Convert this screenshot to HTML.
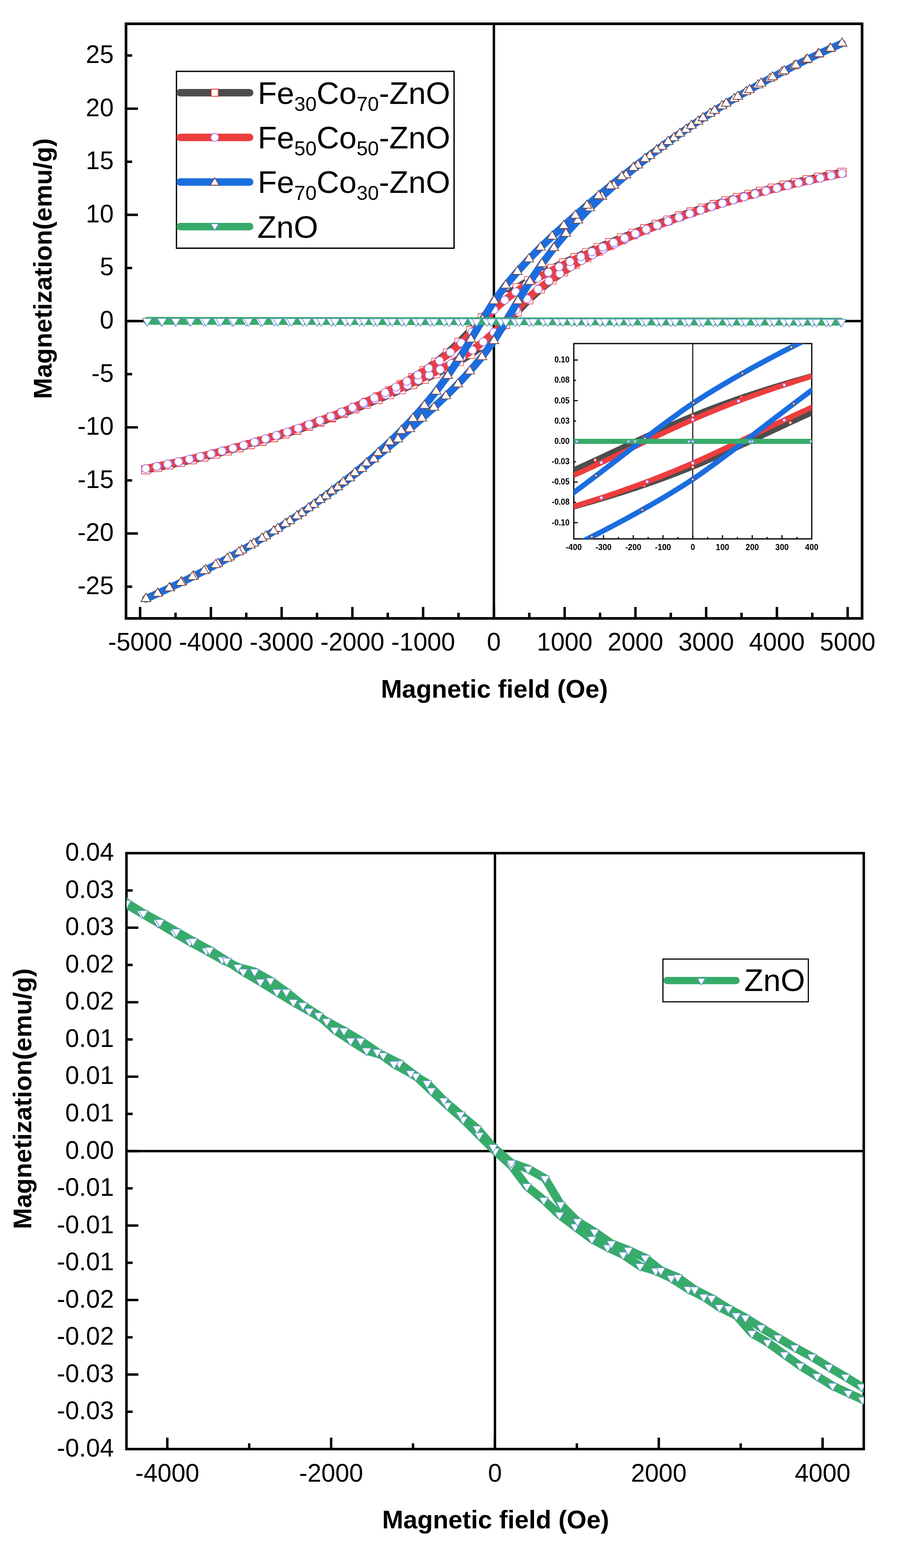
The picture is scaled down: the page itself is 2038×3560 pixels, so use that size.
<!DOCTYPE html><html><head><meta charset="utf-8"><title>M-H loops</title><style>html,body{margin:0;padding:0;background:#fff}svg{display:block}text{font-family:"Liberation Sans",Arial,sans-serif}</style></head><body>
<svg width="2038" height="3560" viewBox="0 0 2038 3560">
<rect width="2038" height="3560" fill="#fff"/>
<path d="M1120.9 54V1404 M286 729H1956.5" stroke="#000" stroke-width="5.5" fill="none"/>
<path d="M1911 391.3 L1884.6 396.8 L1858.3 402.4 L1831.9 408.3 L1805.6 414.4 L1779.3 420.7 L1752.9 427.3 L1726.6 434.2 L1700.3 441.3 L1673.9 448.7 L1647.6 456.4 L1621.3 464.5 L1594.9 472.8 L1568.6 481.5 L1542.3 490.5 L1515.9 499.8 L1489.6 509.5 L1463.3 519.5 L1436.9 529.7 L1410.6 540.2 L1384.3 551 L1357.9 562.1 L1331.6 573.4 L1305.2 585 L1278.9 597 L1252.6 609.6 L1226.2 622.9 L1199.9 637.4 L1173.6 653.6 L1147.2 672.5 L1120.9 694.8 L1094.6 721.5 L1068.2 750 L1041.9 777.3 L1015.6 801.6 L989.2 822.6 L962.9 841.1 L936.6 857.8 L910.2 873.1 L883.9 887.4 L857.5 900.7 L831.2 913.3 L804.9 925.2 L778.5 936.4 L752.2 947 L725.9 957.2 L699.5 966.9 L673.2 976.1 L646.9 984.9 L620.5 993.4 L594.2 1001.5 L567.9 1009.2 L541.5 1016.7 L515.2 1023.8 L488.9 1030.7 L462.5 1037.3 L436.2 1043.6 L409.9 1049.7 L383.5 1055.6 L357.2 1061.2 L330.8 1066.7 L330.8 1066.7 L357.2 1061.2 L383.5 1055.6 L409.9 1049.7 L436.2 1043.6 L462.5 1037.3 L488.9 1030.7 L515.2 1023.8 L541.5 1016.7 L567.9 1009.3 L594.2 1001.6 L620.5 993.5 L646.9 985.2 L673.2 976.5 L699.5 967.5 L725.9 958.2 L752.2 948.5 L778.5 938.5 L804.9 928.3 L831.2 917.8 L857.5 907 L883.9 895.9 L910.2 884.6 L936.6 873 L962.9 861 L989.2 848.4 L1015.6 835.1 L1041.9 820.6 L1068.2 804.4 L1094.6 785.5 L1120.9 763.2 L1147.2 736.5 L1173.6 708 L1199.9 680.7 L1226.2 656.4 L1252.6 635.4 L1278.9 616.9 L1305.2 600.2 L1331.6 584.9 L1357.9 570.6 L1384.3 557.3 L1410.6 544.7 L1436.9 532.8 L1463.3 521.6 L1489.6 511 L1515.9 500.8 L1542.3 491.1 L1568.6 481.9 L1594.9 473.1 L1621.3 464.6 L1647.6 456.5 L1673.9 448.8 L1700.3 441.3 L1726.6 434.2 L1752.9 427.3 L1779.3 420.7 L1805.6 414.4 L1831.9 408.3 L1858.3 402.4 L1884.6 396.8 L1911 391.3" stroke="#4d4d4d" stroke-width="17" fill="none" stroke-linejoin="round" stroke-linecap="round"/>
<g fill="#fff" stroke="#f02828" stroke-width="1.3"><path d="M321.3 1057.2h19v19h-19Z"/><path d="M347.7 1051.7h19v19h-19Z"/><path d="M374 1046.1h19v19h-19Z"/><path d="M400.4 1040.2h19v19h-19Z"/><path d="M426.7 1034.1h19v19h-19Z"/><path d="M453 1027.8h19v19h-19Z"/><path d="M479.4 1021.2h19v19h-19Z"/><path d="M505.7 1014.3h19v19h-19Z"/><path d="M532 1007.2h19v19h-19Z"/><path d="M558.4 999.8h19v19h-19Z"/><path d="M584.7 992.1h19v19h-19Z"/><path d="M611 984h19v19h-19Z"/><path d="M637.4 975.7h19v19h-19Z"/><path d="M663.7 967h19v19h-19Z"/><path d="M690 958h19v19h-19Z"/><path d="M716.4 948.7h19v19h-19Z"/><path d="M742.7 939h19v19h-19Z"/><path d="M769 929h19v19h-19Z"/><path d="M795.4 918.8h19v19h-19Z"/><path d="M821.7 908.3h19v19h-19Z"/><path d="M848 897.5h19v19h-19Z"/><path d="M874.4 886.4h19v19h-19Z"/><path d="M900.7 875.1h19v19h-19Z"/><path d="M927.1 863.5h19v19h-19Z"/><path d="M953.4 851.5h19v19h-19Z"/><path d="M979.7 838.9h19v19h-19Z"/><path d="M1006.1 825.6h19v19h-19Z"/><path d="M1032.4 811.1h19v19h-19Z"/><path d="M1058.7 794.9h19v19h-19Z"/><path d="M1085.1 776h19v19h-19Z"/><path d="M1111.4 753.7h19v19h-19Z"/><path d="M1137.7 727h19v19h-19Z"/><path d="M1164.1 698.5h19v19h-19Z"/><path d="M1190.4 671.2h19v19h-19Z"/><path d="M1216.7 646.9h19v19h-19Z"/><path d="M1243.1 625.9h19v19h-19Z"/><path d="M1269.4 607.4h19v19h-19Z"/><path d="M1295.7 590.7h19v19h-19Z"/><path d="M1322.1 575.4h19v19h-19Z"/><path d="M1348.4 561.1h19v19h-19Z"/><path d="M1374.8 547.8h19v19h-19Z"/><path d="M1401.1 535.2h19v19h-19Z"/><path d="M1427.4 523.3h19v19h-19Z"/><path d="M1453.8 512.1h19v19h-19Z"/><path d="M1480.1 501.5h19v19h-19Z"/><path d="M1506.4 491.3h19v19h-19Z"/><path d="M1532.8 481.6h19v19h-19Z"/><path d="M1559.1 472.4h19v19h-19Z"/><path d="M1585.4 463.6h19v19h-19Z"/><path d="M1611.8 455.1h19v19h-19Z"/><path d="M1638.1 447h19v19h-19Z"/><path d="M1664.4 439.3h19v19h-19Z"/><path d="M1690.8 431.8h19v19h-19Z"/><path d="M1717.1 424.7h19v19h-19Z"/><path d="M1743.4 417.8h19v19h-19Z"/><path d="M1769.8 411.2h19v19h-19Z"/><path d="M1796.1 404.9h19v19h-19Z"/><path d="M1822.4 398.8h19v19h-19Z"/><path d="M1848.8 392.9h19v19h-19Z"/><path d="M1875.1 387.3h19v19h-19Z"/><path d="M1901.5 381.8h19v19h-19Z"/><path d="M1901.5 381.8h19v19h-19Z"/><path d="M1875.1 387.3h19v19h-19Z"/><path d="M1848.8 392.9h19v19h-19Z"/><path d="M1822.4 398.8h19v19h-19Z"/><path d="M1796.1 404.9h19v19h-19Z"/><path d="M1769.8 411.2h19v19h-19Z"/><path d="M1743.4 417.8h19v19h-19Z"/><path d="M1717.1 424.7h19v19h-19Z"/><path d="M1690.8 431.8h19v19h-19Z"/><path d="M1664.4 439.2h19v19h-19Z"/><path d="M1638.1 446.9h19v19h-19Z"/><path d="M1611.8 455h19v19h-19Z"/><path d="M1585.4 463.3h19v19h-19Z"/><path d="M1559.1 472h19v19h-19Z"/><path d="M1532.8 481h19v19h-19Z"/><path d="M1506.4 490.3h19v19h-19Z"/><path d="M1480.1 500h19v19h-19Z"/><path d="M1453.8 510h19v19h-19Z"/><path d="M1427.4 520.2h19v19h-19Z"/><path d="M1401.1 530.7h19v19h-19Z"/><path d="M1374.8 541.5h19v19h-19Z"/><path d="M1348.4 552.6h19v19h-19Z"/><path d="M1322.1 563.9h19v19h-19Z"/><path d="M1295.7 575.5h19v19h-19Z"/><path d="M1269.4 587.5h19v19h-19Z"/><path d="M1243.1 600.1h19v19h-19Z"/><path d="M1216.7 613.4h19v19h-19Z"/><path d="M1190.4 627.9h19v19h-19Z"/><path d="M1164.1 644.1h19v19h-19Z"/><path d="M1137.7 663h19v19h-19Z"/><path d="M1111.4 685.3h19v19h-19Z"/><path d="M1085.1 712h19v19h-19Z"/><path d="M1058.7 740.5h19v19h-19Z"/><path d="M1032.4 767.8h19v19h-19Z"/><path d="M1006.1 792.1h19v19h-19Z"/><path d="M979.7 813.1h19v19h-19Z"/><path d="M953.4 831.6h19v19h-19Z"/><path d="M927.1 848.3h19v19h-19Z"/><path d="M900.7 863.6h19v19h-19Z"/><path d="M874.4 877.9h19v19h-19Z"/><path d="M848 891.2h19v19h-19Z"/><path d="M821.7 903.8h19v19h-19Z"/><path d="M795.4 915.7h19v19h-19Z"/><path d="M769 926.9h19v19h-19Z"/><path d="M742.7 937.5h19v19h-19Z"/><path d="M716.4 947.7h19v19h-19Z"/><path d="M690 957.4h19v19h-19Z"/><path d="M663.7 966.6h19v19h-19Z"/><path d="M637.4 975.4h19v19h-19Z"/><path d="M611 983.9h19v19h-19Z"/><path d="M584.7 992h19v19h-19Z"/><path d="M558.4 999.7h19v19h-19Z"/><path d="M532 1007.2h19v19h-19Z"/><path d="M505.7 1014.3h19v19h-19Z"/><path d="M479.4 1021.2h19v19h-19Z"/><path d="M453 1027.8h19v19h-19Z"/><path d="M426.7 1034.1h19v19h-19Z"/><path d="M400.4 1040.2h19v19h-19Z"/><path d="M374 1046.1h19v19h-19Z"/><path d="M347.7 1051.7h19v19h-19Z"/><path d="M321.3 1057.2h19v19h-19Z"/></g>
<path d="M1911 394 L1886.3 399.1 L1861.6 404.4 L1836.9 409.8 L1812.2 415.5 L1787.5 421.4 L1762.8 427.4 L1738.1 433.8 L1713.4 440.3 L1688.8 447.1 L1664.1 454.2 L1639.4 461.5 L1614.7 469.1 L1590 477 L1565.3 485.2 L1540.6 493.7 L1515.9 502.4 L1491.2 511.5 L1466.5 520.8 L1441.9 530.5 L1417.2 540.4 L1392.5 550.5 L1367.8 560.9 L1343.1 571.6 L1318.4 582.6 L1293.7 594 L1269 605.8 L1244.3 618.3 L1219.7 631.6 L1195 646.2 L1170.3 662.7 L1145.6 681.6 L1120.9 703.4 L1096.2 728.3 L1071.5 754 L1046.8 778.3 L1022.1 799.9 L997.5 819 L972.8 835.9 L948.1 851.3 L923.4 865.6 L898.7 878.9 L874 891.4 L849.3 903.3 L824.6 914.6 L799.9 925.4 L775.3 935.6 L750.6 945.5 L725.9 954.9 L701.2 963.9 L676.5 972.5 L651.8 980.8 L627.1 988.8 L602.4 996.4 L577.7 1003.8 L553 1010.9 L528.4 1017.7 L503.7 1024.2 L479 1030.6 L454.3 1036.6 L429.6 1042.5 L404.9 1048.2 L380.2 1053.6 L355.5 1058.9 L330.8 1064 L330.8 1064 L357 1058.6 L381.7 1053.3 L406.4 1047.8 L431 1042.2 L455.7 1036.3 L480.4 1030.2 L505.1 1023.9 L529.8 1017.3 L554.5 1010.5 L579.2 1003.4 L603.9 996.1 L628.6 988.4 L653.3 980.5 L677.9 972.3 L702.6 963.8 L727.3 955.1 L752 946 L776.7 936.6 L801.4 927 L826.1 917.1 L850.8 906.9 L875.5 896.4 L900.1 885.7 L924.8 874.7 L949.5 863.3 L974.2 851.5 L998.9 839 L1023.6 825.6 L1047.9 811.1 L1072.3 794.8 L1096.6 776.1 L1120.9 754.6 L1146 729.4 L1171 703.3 L1196.1 678.7 L1221.1 656.9 L1245.8 638 L1270.5 621.1 L1295.2 605.8 L1319.9 591.6 L1344.5 578.4 L1369.2 565.8 L1393.9 554 L1418.6 542.7 L1443.3 532 L1468 521.8 L1492.7 512 L1517.4 502.6 L1542.1 493.6 L1566.8 485 L1591.4 476.7 L1616.1 468.8 L1640.8 461.1 L1665.5 453.8 L1690.2 446.7 L1714.9 439.9 L1739.6 433.4 L1764.3 427.1 L1789 421 L1813.6 415.2 L1838.3 409.5 L1863 404 L1887.7 398.8 L1911 394" stroke="#ee3d3d" stroke-width="17" fill="none" stroke-linejoin="round" stroke-linecap="round"/>
<g fill="#fff" stroke="#a777e6" stroke-width="1.7"><path d="M321.6 1064a9.2 9.2 0 1 0 18.4 0a9.2 9.2 0 1 0 -18.4 0Z"/><path d="M347.8 1058.6a9.2 9.2 0 1 0 18.4 0a9.2 9.2 0 1 0 -18.4 0Z"/><path d="M372.5 1053.3a9.2 9.2 0 1 0 18.4 0a9.2 9.2 0 1 0 -18.4 0Z"/><path d="M397.2 1047.8a9.2 9.2 0 1 0 18.4 0a9.2 9.2 0 1 0 -18.4 0Z"/><path d="M421.8 1042.2a9.2 9.2 0 1 0 18.4 0a9.2 9.2 0 1 0 -18.4 0Z"/><path d="M446.5 1036.3a9.2 9.2 0 1 0 18.4 0a9.2 9.2 0 1 0 -18.4 0Z"/><path d="M471.2 1030.2a9.2 9.2 0 1 0 18.4 0a9.2 9.2 0 1 0 -18.4 0Z"/><path d="M495.9 1023.9a9.2 9.2 0 1 0 18.4 0a9.2 9.2 0 1 0 -18.4 0Z"/><path d="M520.6 1017.3a9.2 9.2 0 1 0 18.4 0a9.2 9.2 0 1 0 -18.4 0Z"/><path d="M545.3 1010.5a9.2 9.2 0 1 0 18.4 0a9.2 9.2 0 1 0 -18.4 0Z"/><path d="M570 1003.4a9.2 9.2 0 1 0 18.4 0a9.2 9.2 0 1 0 -18.4 0Z"/><path d="M594.7 996.1a9.2 9.2 0 1 0 18.4 0a9.2 9.2 0 1 0 -18.4 0Z"/><path d="M619.4 988.4a9.2 9.2 0 1 0 18.4 0a9.2 9.2 0 1 0 -18.4 0Z"/><path d="M644.1 980.5a9.2 9.2 0 1 0 18.4 0a9.2 9.2 0 1 0 -18.4 0Z"/><path d="M668.7 972.3a9.2 9.2 0 1 0 18.4 0a9.2 9.2 0 1 0 -18.4 0Z"/><path d="M693.4 963.8a9.2 9.2 0 1 0 18.4 0a9.2 9.2 0 1 0 -18.4 0Z"/><path d="M718.1 955.1a9.2 9.2 0 1 0 18.4 0a9.2 9.2 0 1 0 -18.4 0Z"/><path d="M742.8 946a9.2 9.2 0 1 0 18.4 0a9.2 9.2 0 1 0 -18.4 0Z"/><path d="M767.5 936.6a9.2 9.2 0 1 0 18.4 0a9.2 9.2 0 1 0 -18.4 0Z"/><path d="M792.2 927a9.2 9.2 0 1 0 18.4 0a9.2 9.2 0 1 0 -18.4 0Z"/><path d="M816.9 917.1a9.2 9.2 0 1 0 18.4 0a9.2 9.2 0 1 0 -18.4 0Z"/><path d="M841.6 906.9a9.2 9.2 0 1 0 18.4 0a9.2 9.2 0 1 0 -18.4 0Z"/><path d="M866.3 896.4a9.2 9.2 0 1 0 18.4 0a9.2 9.2 0 1 0 -18.4 0Z"/><path d="M890.9 885.7a9.2 9.2 0 1 0 18.4 0a9.2 9.2 0 1 0 -18.4 0Z"/><path d="M915.6 874.7a9.2 9.2 0 1 0 18.4 0a9.2 9.2 0 1 0 -18.4 0Z"/><path d="M940.3 863.3a9.2 9.2 0 1 0 18.4 0a9.2 9.2 0 1 0 -18.4 0Z"/><path d="M965 851.5a9.2 9.2 0 1 0 18.4 0a9.2 9.2 0 1 0 -18.4 0Z"/><path d="M989.7 839a9.2 9.2 0 1 0 18.4 0a9.2 9.2 0 1 0 -18.4 0Z"/><path d="M1014.4 825.6a9.2 9.2 0 1 0 18.4 0a9.2 9.2 0 1 0 -18.4 0Z"/><path d="M1038.7 811.1a9.2 9.2 0 1 0 18.4 0a9.2 9.2 0 1 0 -18.4 0Z"/><path d="M1063.1 794.8a9.2 9.2 0 1 0 18.4 0a9.2 9.2 0 1 0 -18.4 0Z"/><path d="M1087.4 776.1a9.2 9.2 0 1 0 18.4 0a9.2 9.2 0 1 0 -18.4 0Z"/><path d="M1111.7 754.6a9.2 9.2 0 1 0 18.4 0a9.2 9.2 0 1 0 -18.4 0Z"/><path d="M1136.8 729.4a9.2 9.2 0 1 0 18.4 0a9.2 9.2 0 1 0 -18.4 0Z"/><path d="M1161.8 703.3a9.2 9.2 0 1 0 18.4 0a9.2 9.2 0 1 0 -18.4 0Z"/><path d="M1186.9 678.7a9.2 9.2 0 1 0 18.4 0a9.2 9.2 0 1 0 -18.4 0Z"/><path d="M1211.9 656.9a9.2 9.2 0 1 0 18.4 0a9.2 9.2 0 1 0 -18.4 0Z"/><path d="M1236.6 638a9.2 9.2 0 1 0 18.4 0a9.2 9.2 0 1 0 -18.4 0Z"/><path d="M1261.3 621.1a9.2 9.2 0 1 0 18.4 0a9.2 9.2 0 1 0 -18.4 0Z"/><path d="M1286 605.8a9.2 9.2 0 1 0 18.4 0a9.2 9.2 0 1 0 -18.4 0Z"/><path d="M1310.7 591.6a9.2 9.2 0 1 0 18.4 0a9.2 9.2 0 1 0 -18.4 0Z"/><path d="M1335.3 578.4a9.2 9.2 0 1 0 18.4 0a9.2 9.2 0 1 0 -18.4 0Z"/><path d="M1360 565.8a9.2 9.2 0 1 0 18.4 0a9.2 9.2 0 1 0 -18.4 0Z"/><path d="M1384.7 554a9.2 9.2 0 1 0 18.4 0a9.2 9.2 0 1 0 -18.4 0Z"/><path d="M1409.4 542.7a9.2 9.2 0 1 0 18.4 0a9.2 9.2 0 1 0 -18.4 0Z"/><path d="M1434.1 532a9.2 9.2 0 1 0 18.4 0a9.2 9.2 0 1 0 -18.4 0Z"/><path d="M1458.8 521.8a9.2 9.2 0 1 0 18.4 0a9.2 9.2 0 1 0 -18.4 0Z"/><path d="M1483.5 512a9.2 9.2 0 1 0 18.4 0a9.2 9.2 0 1 0 -18.4 0Z"/><path d="M1508.2 502.6a9.2 9.2 0 1 0 18.4 0a9.2 9.2 0 1 0 -18.4 0Z"/><path d="M1532.9 493.6a9.2 9.2 0 1 0 18.4 0a9.2 9.2 0 1 0 -18.4 0Z"/><path d="M1557.6 485a9.2 9.2 0 1 0 18.4 0a9.2 9.2 0 1 0 -18.4 0Z"/><path d="M1582.2 476.7a9.2 9.2 0 1 0 18.4 0a9.2 9.2 0 1 0 -18.4 0Z"/><path d="M1606.9 468.8a9.2 9.2 0 1 0 18.4 0a9.2 9.2 0 1 0 -18.4 0Z"/><path d="M1631.6 461.1a9.2 9.2 0 1 0 18.4 0a9.2 9.2 0 1 0 -18.4 0Z"/><path d="M1656.3 453.8a9.2 9.2 0 1 0 18.4 0a9.2 9.2 0 1 0 -18.4 0Z"/><path d="M1681 446.7a9.2 9.2 0 1 0 18.4 0a9.2 9.2 0 1 0 -18.4 0Z"/><path d="M1705.7 439.9a9.2 9.2 0 1 0 18.4 0a9.2 9.2 0 1 0 -18.4 0Z"/><path d="M1730.4 433.4a9.2 9.2 0 1 0 18.4 0a9.2 9.2 0 1 0 -18.4 0Z"/><path d="M1755.1 427.1a9.2 9.2 0 1 0 18.4 0a9.2 9.2 0 1 0 -18.4 0Z"/><path d="M1779.8 421a9.2 9.2 0 1 0 18.4 0a9.2 9.2 0 1 0 -18.4 0Z"/><path d="M1804.4 415.2a9.2 9.2 0 1 0 18.4 0a9.2 9.2 0 1 0 -18.4 0Z"/><path d="M1829.1 409.5a9.2 9.2 0 1 0 18.4 0a9.2 9.2 0 1 0 -18.4 0Z"/><path d="M1853.8 404a9.2 9.2 0 1 0 18.4 0a9.2 9.2 0 1 0 -18.4 0Z"/><path d="M1878.5 398.8a9.2 9.2 0 1 0 18.4 0a9.2 9.2 0 1 0 -18.4 0Z"/><path d="M1901.8 394a9.2 9.2 0 1 0 18.4 0a9.2 9.2 0 1 0 -18.4 0Z"/><path d="M1901.8 394a9.2 9.2 0 1 0 18.4 0a9.2 9.2 0 1 0 -18.4 0Z"/><path d="M1877.1 399.1a9.2 9.2 0 1 0 18.4 0a9.2 9.2 0 1 0 -18.4 0Z"/><path d="M1852.4 404.4a9.2 9.2 0 1 0 18.4 0a9.2 9.2 0 1 0 -18.4 0Z"/><path d="M1827.7 409.8a9.2 9.2 0 1 0 18.4 0a9.2 9.2 0 1 0 -18.4 0Z"/><path d="M1803 415.5a9.2 9.2 0 1 0 18.4 0a9.2 9.2 0 1 0 -18.4 0Z"/><path d="M1778.3 421.4a9.2 9.2 0 1 0 18.4 0a9.2 9.2 0 1 0 -18.4 0Z"/><path d="M1753.6 427.4a9.2 9.2 0 1 0 18.4 0a9.2 9.2 0 1 0 -18.4 0Z"/><path d="M1728.9 433.8a9.2 9.2 0 1 0 18.4 0a9.2 9.2 0 1 0 -18.4 0Z"/><path d="M1704.2 440.3a9.2 9.2 0 1 0 18.4 0a9.2 9.2 0 1 0 -18.4 0Z"/><path d="M1679.6 447.1a9.2 9.2 0 1 0 18.4 0a9.2 9.2 0 1 0 -18.4 0Z"/><path d="M1654.9 454.2a9.2 9.2 0 1 0 18.4 0a9.2 9.2 0 1 0 -18.4 0Z"/><path d="M1630.2 461.5a9.2 9.2 0 1 0 18.4 0a9.2 9.2 0 1 0 -18.4 0Z"/><path d="M1605.5 469.1a9.2 9.2 0 1 0 18.4 0a9.2 9.2 0 1 0 -18.4 0Z"/><path d="M1580.8 477a9.2 9.2 0 1 0 18.4 0a9.2 9.2 0 1 0 -18.4 0Z"/><path d="M1556.1 485.2a9.2 9.2 0 1 0 18.4 0a9.2 9.2 0 1 0 -18.4 0Z"/><path d="M1531.4 493.7a9.2 9.2 0 1 0 18.4 0a9.2 9.2 0 1 0 -18.4 0Z"/><path d="M1506.7 502.4a9.2 9.2 0 1 0 18.4 0a9.2 9.2 0 1 0 -18.4 0Z"/><path d="M1482 511.5a9.2 9.2 0 1 0 18.4 0a9.2 9.2 0 1 0 -18.4 0Z"/><path d="M1457.3 520.8a9.2 9.2 0 1 0 18.4 0a9.2 9.2 0 1 0 -18.4 0Z"/><path d="M1432.7 530.5a9.2 9.2 0 1 0 18.4 0a9.2 9.2 0 1 0 -18.4 0Z"/><path d="M1408 540.4a9.2 9.2 0 1 0 18.4 0a9.2 9.2 0 1 0 -18.4 0Z"/><path d="M1383.3 550.5a9.2 9.2 0 1 0 18.4 0a9.2 9.2 0 1 0 -18.4 0Z"/><path d="M1358.6 560.9a9.2 9.2 0 1 0 18.4 0a9.2 9.2 0 1 0 -18.4 0Z"/><path d="M1333.9 571.6a9.2 9.2 0 1 0 18.4 0a9.2 9.2 0 1 0 -18.4 0Z"/><path d="M1309.2 582.6a9.2 9.2 0 1 0 18.4 0a9.2 9.2 0 1 0 -18.4 0Z"/><path d="M1284.5 594a9.2 9.2 0 1 0 18.4 0a9.2 9.2 0 1 0 -18.4 0Z"/><path d="M1259.8 605.8a9.2 9.2 0 1 0 18.4 0a9.2 9.2 0 1 0 -18.4 0Z"/><path d="M1235.1 618.3a9.2 9.2 0 1 0 18.4 0a9.2 9.2 0 1 0 -18.4 0Z"/><path d="M1210.5 631.6a9.2 9.2 0 1 0 18.4 0a9.2 9.2 0 1 0 -18.4 0Z"/><path d="M1185.8 646.2a9.2 9.2 0 1 0 18.4 0a9.2 9.2 0 1 0 -18.4 0Z"/><path d="M1161.1 662.7a9.2 9.2 0 1 0 18.4 0a9.2 9.2 0 1 0 -18.4 0Z"/><path d="M1136.4 681.6a9.2 9.2 0 1 0 18.4 0a9.2 9.2 0 1 0 -18.4 0Z"/><path d="M1111.7 703.4a9.2 9.2 0 1 0 18.4 0a9.2 9.2 0 1 0 -18.4 0Z"/><path d="M1087 728.3a9.2 9.2 0 1 0 18.4 0a9.2 9.2 0 1 0 -18.4 0Z"/><path d="M1062.3 754a9.2 9.2 0 1 0 18.4 0a9.2 9.2 0 1 0 -18.4 0Z"/><path d="M1037.6 778.3a9.2 9.2 0 1 0 18.4 0a9.2 9.2 0 1 0 -18.4 0Z"/><path d="M1012.9 799.9a9.2 9.2 0 1 0 18.4 0a9.2 9.2 0 1 0 -18.4 0Z"/><path d="M988.3 819a9.2 9.2 0 1 0 18.4 0a9.2 9.2 0 1 0 -18.4 0Z"/><path d="M963.6 835.9a9.2 9.2 0 1 0 18.4 0a9.2 9.2 0 1 0 -18.4 0Z"/><path d="M938.9 851.3a9.2 9.2 0 1 0 18.4 0a9.2 9.2 0 1 0 -18.4 0Z"/><path d="M914.2 865.6a9.2 9.2 0 1 0 18.4 0a9.2 9.2 0 1 0 -18.4 0Z"/><path d="M889.5 878.9a9.2 9.2 0 1 0 18.4 0a9.2 9.2 0 1 0 -18.4 0Z"/><path d="M864.8 891.4a9.2 9.2 0 1 0 18.4 0a9.2 9.2 0 1 0 -18.4 0Z"/><path d="M840.1 903.3a9.2 9.2 0 1 0 18.4 0a9.2 9.2 0 1 0 -18.4 0Z"/><path d="M815.4 914.6a9.2 9.2 0 1 0 18.4 0a9.2 9.2 0 1 0 -18.4 0Z"/><path d="M790.7 925.4a9.2 9.2 0 1 0 18.4 0a9.2 9.2 0 1 0 -18.4 0Z"/><path d="M766.1 935.6a9.2 9.2 0 1 0 18.4 0a9.2 9.2 0 1 0 -18.4 0Z"/><path d="M741.4 945.5a9.2 9.2 0 1 0 18.4 0a9.2 9.2 0 1 0 -18.4 0Z"/><path d="M716.7 954.9a9.2 9.2 0 1 0 18.4 0a9.2 9.2 0 1 0 -18.4 0Z"/><path d="M692 963.9a9.2 9.2 0 1 0 18.4 0a9.2 9.2 0 1 0 -18.4 0Z"/><path d="M667.3 972.5a9.2 9.2 0 1 0 18.4 0a9.2 9.2 0 1 0 -18.4 0Z"/><path d="M642.6 980.8a9.2 9.2 0 1 0 18.4 0a9.2 9.2 0 1 0 -18.4 0Z"/><path d="M617.9 988.8a9.2 9.2 0 1 0 18.4 0a9.2 9.2 0 1 0 -18.4 0Z"/><path d="M593.2 996.4a9.2 9.2 0 1 0 18.4 0a9.2 9.2 0 1 0 -18.4 0Z"/><path d="M568.5 1003.8a9.2 9.2 0 1 0 18.4 0a9.2 9.2 0 1 0 -18.4 0Z"/><path d="M543.8 1010.9a9.2 9.2 0 1 0 18.4 0a9.2 9.2 0 1 0 -18.4 0Z"/><path d="M519.2 1017.7a9.2 9.2 0 1 0 18.4 0a9.2 9.2 0 1 0 -18.4 0Z"/><path d="M494.5 1024.2a9.2 9.2 0 1 0 18.4 0a9.2 9.2 0 1 0 -18.4 0Z"/><path d="M469.8 1030.6a9.2 9.2 0 1 0 18.4 0a9.2 9.2 0 1 0 -18.4 0Z"/><path d="M445.1 1036.6a9.2 9.2 0 1 0 18.4 0a9.2 9.2 0 1 0 -18.4 0Z"/><path d="M420.4 1042.5a9.2 9.2 0 1 0 18.4 0a9.2 9.2 0 1 0 -18.4 0Z"/><path d="M395.7 1048.2a9.2 9.2 0 1 0 18.4 0a9.2 9.2 0 1 0 -18.4 0Z"/><path d="M371 1053.6a9.2 9.2 0 1 0 18.4 0a9.2 9.2 0 1 0 -18.4 0Z"/><path d="M346.3 1058.9a9.2 9.2 0 1 0 18.4 0a9.2 9.2 0 1 0 -18.4 0Z"/><path d="M321.6 1064a9.2 9.2 0 1 0 18.4 0a9.2 9.2 0 1 0 -18.4 0Z"/></g>
<path d="M1911 98.4 L1885.1 110.1 L1858.8 122.3 L1832.4 134.9 L1806.1 147.9 L1779.8 161.3 L1753.4 175.1 L1727.1 189.3 L1700.8 204 L1674.4 219.2 L1648.1 234.9 L1621.7 251.2 L1595.4 268 L1569.1 285.3 L1542.7 303.2 L1516.4 321.7 L1490.1 340.8 L1463.7 360.4 L1437.4 380.6 L1411.1 401.3 L1384.7 422.6 L1358.4 444.3 L1332.1 466.5 L1305.7 489.2 L1279.4 512.6 L1253.1 536.6 L1226.7 561.7 L1200.4 588.2 L1174.1 616.7 L1147.7 648 L1121.4 683.3 L1095 725.9 L1068.7 770.6 L1042.4 813.6 L1016 853.1 L989.7 888.6 L963.4 920.8 L937 950.4 L910.7 977.9 L884.4 1003.7 L858 1028.1 L831.7 1051.3 L805.4 1073.5 L779 1094.7 L752.7 1115 L726.4 1134.6 L700 1153.5 L673.7 1171.6 L647.3 1189.2 L621 1206.1 L594.7 1222.4 L568.3 1238.2 L542 1253.4 L515.7 1268.1 L489.3 1282.4 L463 1296.2 L436.7 1309.6 L410.3 1322.6 L384 1335.2 L357.7 1347.5 L331.3 1359.4 L330.8 1359.6 L358.1 1347.3 L385.3 1334.6 L412.6 1321.5 L439.8 1308.1 L467.1 1294.1 L494.3 1279.8 L521.5 1264.9 L548.8 1249.6 L576 1233.7 L603.3 1217.2 L630.5 1200.2 L657.8 1182.6 L685 1164.4 L712.3 1145.6 L739.5 1126.1 L766.7 1106.1 L794 1085.4 L821.2 1064.2 L848.5 1042.4 L875.7 1020.1 L903 997.3 L930.2 973.9 L957.4 949.9 L984.7 925.1 L1011.9 899.4 L1039.2 872.1 L1066.4 842.8 L1093.7 810.5 L1120.9 774 L1148.1 729.8 L1175.4 683.6 L1202.6 639.4 L1229.9 599.1 L1257.1 563 L1284.4 530.3 L1311.6 500.3 L1338.8 472.4 L1366.1 446.2 L1393.3 421.4 L1420.6 397.8 L1447.8 375.3 L1475.1 353.7 L1502.3 333.1 L1529.5 313.2 L1556.8 294.1 L1584 275.7 L1611.3 258 L1638.5 240.9 L1665.8 224.4 L1693 208.5 L1720.3 193.1 L1747.5 178.2 L1774.7 163.9 L1802 149.9 L1829.2 136.5 L1856.5 123.4 L1883.7 110.7 L1911 98.4" stroke="#1b6ddf" stroke-width="17" fill="none" stroke-linejoin="round" stroke-linecap="round"/>
<g fill="#fff" stroke="#7a4640" stroke-width="1.7"><path d="M330.8 1347.3L341.8 1365.8L319.8 1365.8Z"/><path d="M358.1 1335L369.1 1353.4L347.1 1353.4Z"/><path d="M385.3 1322.3L396.3 1340.8L374.3 1340.8Z"/><path d="M412.6 1309.2L423.6 1327.7L401.6 1327.7Z"/><path d="M439.8 1295.7L450.8 1314.2L428.8 1314.2Z"/><path d="M467.1 1281.8L478.1 1300.3L456.1 1300.3Z"/><path d="M494.3 1267.5L505.3 1285.9L483.3 1285.9Z"/><path d="M521.5 1252.6L532.5 1271.1L510.5 1271.1Z"/><path d="M548.8 1237.2L559.8 1255.7L537.8 1255.7Z"/><path d="M576 1221.4L587 1239.8L565 1239.8Z"/><path d="M603.3 1204.9L614.3 1223.4L592.3 1223.4Z"/><path d="M630.5 1187.9L641.5 1206.4L619.5 1206.4Z"/><path d="M657.8 1170.3L668.8 1188.8L646.8 1188.8Z"/><path d="M685 1152.1L696 1170.6L674 1170.6Z"/><path d="M712.3 1133.3L723.3 1151.7L701.3 1151.7Z"/><path d="M739.5 1113.8L750.5 1132.3L728.5 1132.3Z"/><path d="M766.7 1093.8L777.7 1112.2L755.7 1112.2Z"/><path d="M794 1073.1L805 1091.6L783 1091.6Z"/><path d="M821.2 1051.9L832.2 1070.4L810.2 1070.4Z"/><path d="M848.5 1030.1L859.5 1048.6L837.5 1048.6Z"/><path d="M875.7 1007.8L886.7 1026.3L864.7 1026.3Z"/><path d="M903 984.9L914 1003.4L892 1003.4Z"/><path d="M930.2 961.6L941.2 980L919.2 980Z"/><path d="M957.4 937.6L968.4 956.1L946.4 956.1Z"/><path d="M984.7 912.8L995.7 931.3L973.7 931.3Z"/><path d="M1011.9 887L1022.9 905.5L1000.9 905.5Z"/><path d="M1039.2 859.8L1050.2 878.3L1028.2 878.3Z"/><path d="M1066.4 830.5L1077.4 849L1055.4 849Z"/><path d="M1093.7 798.2L1104.7 816.7L1082.7 816.7Z"/><path d="M1120.9 761.7L1131.9 780.1L1109.9 780.1Z"/><path d="M1148.1 717.4L1159.1 735.9L1137.1 735.9Z"/><path d="M1175.4 671.2L1186.4 689.7L1164.4 689.7Z"/><path d="M1202.6 627L1213.6 645.5L1191.6 645.5Z"/><path d="M1229.9 586.8L1240.9 605.3L1218.9 605.3Z"/><path d="M1257.1 550.7L1268.1 569.2L1246.1 569.2Z"/><path d="M1284.4 518L1295.4 536.5L1273.4 536.5Z"/><path d="M1311.6 488L1322.6 506.5L1300.6 506.5Z"/><path d="M1338.8 460.1L1349.8 478.5L1327.8 478.5Z"/><path d="M1366.1 433.8L1377.1 452.3L1355.1 452.3Z"/><path d="M1393.3 409L1404.3 427.5L1382.3 427.5Z"/><path d="M1420.6 385.5L1431.6 403.9L1409.6 403.9Z"/><path d="M1447.8 362.9L1458.8 381.4L1436.8 381.4Z"/><path d="M1475.1 341.4L1486.1 359.9L1464.1 359.9Z"/><path d="M1502.3 320.7L1513.3 339.2L1491.3 339.2Z"/><path d="M1529.5 300.9L1540.5 319.4L1518.5 319.4Z"/><path d="M1556.8 281.8L1567.8 300.3L1545.8 300.3Z"/><path d="M1584 263.4L1595 281.9L1573 281.9Z"/><path d="M1611.3 245.7L1622.3 264.1L1600.3 264.1Z"/><path d="M1638.5 228.6L1649.5 247L1627.5 247Z"/><path d="M1665.8 212.1L1676.8 230.6L1654.8 230.6Z"/><path d="M1693 196.2L1704 214.6L1682 214.6Z"/><path d="M1720.3 180.8L1731.3 199.3L1709.3 199.3Z"/><path d="M1747.5 165.9L1758.5 184.4L1736.5 184.4Z"/><path d="M1774.7 151.5L1785.7 170L1763.7 170Z"/><path d="M1802 137.6L1813 156.1L1791 156.1Z"/><path d="M1829.2 124.1L1840.2 142.6L1818.2 142.6Z"/><path d="M1856.5 111.1L1867.5 129.6L1845.5 129.6Z"/><path d="M1883.7 98.4L1894.7 116.9L1872.7 116.9Z"/><path d="M1911 86.1L1922 104.6L1900 104.6Z"/><path d="M1911 86.1L1922 104.6L1900 104.6Z"/><path d="M1885.1 97.8L1896.1 116.2L1874.1 116.2Z"/><path d="M1858.8 110L1869.8 128.5L1847.8 128.5Z"/><path d="M1832.4 122.6L1843.4 141.1L1821.4 141.1Z"/><path d="M1806.1 135.6L1817.1 154L1795.1 154Z"/><path d="M1779.8 148.9L1790.8 167.4L1768.8 167.4Z"/><path d="M1753.4 162.7L1764.4 181.2L1742.4 181.2Z"/><path d="M1727.1 177L1738.1 195.5L1716.1 195.5Z"/><path d="M1700.8 191.7L1711.8 210.2L1689.8 210.2Z"/><path d="M1674.4 206.9L1685.4 225.4L1663.4 225.4Z"/><path d="M1648.1 222.6L1659.1 241.1L1637.1 241.1Z"/><path d="M1621.7 238.9L1632.7 257.3L1610.7 257.3Z"/><path d="M1595.4 255.6L1606.4 274.1L1584.4 274.1Z"/><path d="M1569.1 273L1580.1 291.5L1558.1 291.5Z"/><path d="M1542.7 290.9L1553.7 309.4L1531.7 309.4Z"/><path d="M1516.4 309.4L1527.4 327.9L1505.4 327.9Z"/><path d="M1490.1 328.5L1501.1 347L1479.1 347Z"/><path d="M1463.7 348.1L1474.7 366.6L1452.7 366.6Z"/><path d="M1437.4 368.3L1448.4 386.8L1426.4 386.8Z"/><path d="M1411.1 389L1422.1 407.5L1400.1 407.5Z"/><path d="M1384.7 410.2L1395.7 428.7L1373.7 428.7Z"/><path d="M1358.4 432L1369.4 450.5L1347.4 450.5Z"/><path d="M1332.1 454.2L1343.1 472.7L1321.1 472.7Z"/><path d="M1305.7 476.9L1316.7 495.4L1294.7 495.4Z"/><path d="M1279.4 500.2L1290.4 518.7L1268.4 518.7Z"/><path d="M1253.1 524.3L1264.1 542.8L1242.1 542.8Z"/><path d="M1226.7 549.4L1237.7 567.9L1215.7 567.9Z"/><path d="M1200.4 575.9L1211.4 594.3L1189.4 594.3Z"/><path d="M1174.1 604.4L1185.1 622.9L1163.1 622.9Z"/><path d="M1147.7 635.7L1158.7 654.2L1136.7 654.2Z"/><path d="M1121.4 671L1132.4 689.5L1110.4 689.5Z"/><path d="M1095 713.6L1106 732.1L1084 732.1Z"/><path d="M1068.7 758.3L1079.7 776.7L1057.7 776.7Z"/><path d="M1042.4 801.3L1053.4 819.8L1031.4 819.8Z"/><path d="M1016 840.7L1027 859.2L1005 859.2Z"/><path d="M989.7 876.3L1000.7 894.8L978.7 894.8Z"/><path d="M963.4 908.5L974.4 927L952.4 927Z"/><path d="M937 938.1L948 956.5L926 956.5Z"/><path d="M910.7 965.5L921.7 984L899.7 984Z"/><path d="M884.4 991.4L895.4 1009.8L873.4 1009.8Z"/><path d="M858 1015.8L869 1034.2L847 1034.2Z"/><path d="M831.7 1039L842.7 1057.5L820.7 1057.5Z"/><path d="M805.4 1061.1L816.4 1079.6L794.4 1079.6Z"/><path d="M779 1082.4L790 1100.8L768 1100.8Z"/><path d="M752.7 1102.7L763.7 1121.2L741.7 1121.2Z"/><path d="M726.4 1122.3L737.4 1140.8L715.4 1140.8Z"/><path d="M700 1141.1L711 1159.6L689 1159.6Z"/><path d="M673.7 1159.3L684.7 1177.8L662.7 1177.8Z"/><path d="M647.3 1176.8L658.3 1195.3L636.3 1195.3Z"/><path d="M621 1193.7L632 1212.2L610 1212.2Z"/><path d="M594.7 1210.1L605.7 1228.5L583.7 1228.5Z"/><path d="M568.3 1225.8L579.3 1244.3L557.3 1244.3Z"/><path d="M542 1241.1L553 1259.6L531 1259.6Z"/><path d="M515.7 1255.8L526.7 1274.3L504.7 1274.3Z"/><path d="M489.3 1270.1L500.3 1288.6L478.3 1288.6Z"/><path d="M463 1283.9L474 1302.4L452 1302.4Z"/><path d="M436.7 1297.3L447.7 1315.8L425.7 1315.8Z"/><path d="M410.3 1310.3L421.3 1328.8L399.3 1328.8Z"/><path d="M384 1322.9L395 1341.4L373 1341.4Z"/><path d="M357.7 1335.2L368.7 1353.6L346.7 1353.6Z"/><path d="M331.3 1347.1L342.3 1365.5L320.3 1365.5Z"/></g>
<path d="M334.1 728.4L1907.7 730.3" stroke="#37ab69" stroke-width="17.8" stroke-linecap="round" fill="none"/>
<g fill="#fff" stroke="#6799d0" stroke-width="1.5"><path d="M334.1 740.5L344.4 723.1L323.7 723.1Z"/><path d="M334.3 740.5L344.6 723.1L323.9 723.1Z"/><path d="M366.2 740.5L376.5 723.1L355.8 723.1Z"/><path d="M367.8 740.5L378.2 723.1L357.5 723.1Z"/><path d="M398.3 740.6L408.6 723.2L387.9 723.2Z"/><path d="M399.1 740.6L409.4 723.2L388.7 723.2Z"/><path d="M430.4 740.6L440.8 723.2L420.1 723.2Z"/><path d="M432.8 740.6L443.2 723.2L422.5 723.2Z"/><path d="M462.5 740.6L472.9 723.3L452.2 723.3Z"/><path d="M467.3 740.6L477.6 723.3L456.9 723.3Z"/><path d="M494.6 740.7L505 723.3L484.3 723.3Z"/><path d="M500.2 740.7L510.6 723.3L489.9 723.3Z"/><path d="M526.8 740.7L537.1 723.3L516.4 723.3Z"/><path d="M530.1 740.7L540.4 723.3L519.7 723.3Z"/><path d="M558.9 740.8L569.2 723.4L548.5 723.4Z"/><path d="M563.3 740.8L573.6 723.4L552.9 723.4Z"/><path d="M591 740.8L601.3 723.4L580.6 723.4Z"/><path d="M595.6 740.8L605.9 723.4L585.2 723.4Z"/><path d="M623.1 740.8L633.5 723.5L612.8 723.5Z"/><path d="M630.1 740.8L640.4 723.5L619.7 723.5Z"/><path d="M655.2 740.9L665.6 723.5L644.9 723.5Z"/><path d="M661.3 740.9L671.7 723.5L651 723.5Z"/><path d="M687.3 740.9L697.7 723.5L677 723.5Z"/><path d="M696 740.9L706.3 723.5L685.6 723.5Z"/><path d="M719.5 741L729.8 723.6L709.1 723.6Z"/><path d="M729.6 741L740 723.6L719.3 723.6Z"/><path d="M751.6 741L761.9 723.6L741.2 723.6Z"/><path d="M760.7 741L771 723.6L750.3 723.6Z"/><path d="M783.7 741L794 723.6L773.3 723.6Z"/><path d="M794.4 741L804.7 723.6L784 723.6Z"/><path d="M815.8 741.1L826.1 723.7L805.4 723.7Z"/><path d="M826.2 741.1L836.5 723.7L815.8 723.7Z"/><path d="M847.9 741.1L858.3 723.7L837.6 723.7Z"/><path d="M856 741.1L866.4 723.7L845.7 723.7Z"/><path d="M880 741.2L890.4 723.8L869.7 723.8Z"/><path d="M890.3 741.2L900.6 723.8L879.9 723.8Z"/><path d="M912.1 741.2L922.5 723.8L901.8 723.8Z"/><path d="M921.2 741.2L931.5 723.8L910.8 723.8Z"/><path d="M944.3 741.2L954.6 723.8L933.9 723.8Z"/><path d="M953.9 741.2L964.3 723.8L943.6 723.8Z"/><path d="M976.4 741.3L986.7 723.9L966 723.9Z"/><path d="M985.5 741.3L995.9 723.9L975.2 723.9Z"/><path d="M1008.5 741.3L1018.8 723.9L998.1 723.9Z"/><path d="M1019.3 741.3L1029.6 723.9L1008.9 723.9Z"/><path d="M1040.6 741.3L1051 724L1030.3 724Z"/><path d="M1050.4 741.3L1060.7 724L1040 724Z"/><path d="M1072.7 741.4L1083.1 724L1062.4 724Z"/><path d="M1081.4 741.4L1091.7 724L1071 724Z"/><path d="M1104.8 741.4L1115.2 724L1094.5 724Z"/><path d="M1115 741.4L1125.4 724L1104.7 724Z"/><path d="M1137 741.5L1147.3 724.1L1126.6 724.1Z"/><path d="M1148.1 741.5L1158.4 724.1L1137.7 724.1Z"/><path d="M1169.1 741.5L1179.4 724.1L1158.7 724.1Z"/><path d="M1178.3 741.5L1188.6 724.1L1167.9 724.1Z"/><path d="M1201.2 741.5L1211.5 724.2L1190.8 724.2Z"/><path d="M1210.1 741.5L1220.4 724.2L1199.7 724.2Z"/><path d="M1233.3 741.6L1243.7 724.2L1223 724.2Z"/><path d="M1242.9 741.6L1253.2 724.2L1232.5 724.2Z"/><path d="M1265.4 741.6L1275.8 724.2L1255.1 724.2Z"/><path d="M1277.2 741.6L1287.5 724.2L1266.8 724.2Z"/><path d="M1297.5 741.7L1307.9 724.3L1287.2 724.3Z"/><path d="M1309.4 741.7L1319.8 724.3L1299.1 724.3Z"/><path d="M1329.7 741.7L1340 724.3L1319.3 724.3Z"/><path d="M1340.3 741.7L1350.7 724.3L1330 724.3Z"/><path d="M1361.8 741.7L1372.1 724.3L1351.4 724.3Z"/><path d="M1373.4 741.7L1383.7 724.3L1363 724.3Z"/><path d="M1393.9 741.8L1404.2 724.4L1383.5 724.4Z"/><path d="M1405.3 741.8L1415.6 724.4L1394.9 724.4Z"/><path d="M1426 741.8L1436.4 724.4L1415.7 724.4Z"/><path d="M1435.5 741.8L1445.9 724.4L1425.2 724.4Z"/><path d="M1458.1 741.8L1468.5 724.5L1447.8 724.5Z"/><path d="M1466.5 741.8L1476.8 724.5L1456.1 724.5Z"/><path d="M1490.2 741.9L1500.6 724.5L1479.9 724.5Z"/><path d="M1500.8 741.9L1511.2 724.5L1490.5 724.5Z"/><path d="M1522.4 741.9L1532.7 724.5L1512 724.5Z"/><path d="M1532.6 741.9L1542.9 724.5L1522.2 724.5Z"/><path d="M1554.5 742L1564.8 724.6L1544.1 724.6Z"/><path d="M1563.9 742L1574.3 724.6L1553.6 724.6Z"/><path d="M1586.6 742L1596.9 724.6L1576.2 724.6Z"/><path d="M1595.5 742L1605.8 724.6L1585.1 724.6Z"/><path d="M1618.7 742L1629 724.7L1608.3 724.7Z"/><path d="M1628.3 742L1638.7 724.7L1618 724.7Z"/><path d="M1650.8 742.1L1661.2 724.7L1640.5 724.7Z"/><path d="M1660.7 742.1L1671 724.7L1650.3 724.7Z"/><path d="M1682.9 742.1L1693.3 724.7L1672.6 724.7Z"/><path d="M1692 742.1L1702.4 724.7L1681.7 724.7Z"/><path d="M1715 742.2L1725.4 724.8L1704.7 724.8Z"/><path d="M1724.2 742.2L1734.6 724.8L1713.9 724.8Z"/><path d="M1747.2 742.2L1757.5 724.8L1736.8 724.8Z"/><path d="M1757 742.2L1767.3 724.8L1746.6 724.8Z"/><path d="M1779.3 742.2L1789.6 724.8L1768.9 724.8Z"/><path d="M1790.7 742.2L1801.1 724.8L1780.4 724.8Z"/><path d="M1811.4 742.3L1821.7 724.9L1801 724.9Z"/><path d="M1821.7 742.3L1832.1 724.9L1811.4 724.9Z"/><path d="M1843.5 742.3L1853.9 724.9L1833.2 724.9Z"/><path d="M1852.6 742.3L1863 724.9L1842.3 724.9Z"/><path d="M1875.6 742.4L1886 725L1865.3 725Z"/><path d="M1884.7 742.4L1895.1 725L1874.4 725Z"/><path d="M1907.7 742.4L1918.1 725L1897.4 725Z"/><path d="M1909.7 742.4L1920.1 725L1899.4 725Z"/></g>
<rect x="286" y="54" width="1670.5" height="1350" fill="none" stroke="#000" stroke-width="6"/>
<path d="M318 1404V1378M398.3 1404V1391M478.6 1404V1378M558.9 1404V1391M639.2 1404V1378M719.5 1404V1391M799.7 1404V1378M880 1404V1391M960.3 1404V1378M1040.6 1404V1391M1120.9 1404V1378M1201.2 1404V1391M1281.5 1404V1378M1361.8 1404V1391M1442.1 1404V1378M1522.4 1404V1391M1602.6 1404V1378M1682.9 1404V1391M1763.2 1404V1378M1843.5 1404V1391M1923.8 1404V1378M286 1331.9H300M286 1211.3H313M286 1090.8H300M286 970.2H313M286 849.6H300M286 729H313M286 608.4H300M286 487.8H313M286 367.2H300M286 246.7H313M286 126.1H300" stroke="#000" stroke-width="5.5" fill="none"/>
<text x="258" y="1348.9" font-size="56.8" text-anchor="end">-25</text>
<text x="258" y="1228.3" font-size="56.8" text-anchor="end">-20</text>
<text x="258" y="1107.8" font-size="56.8" text-anchor="end">-15</text>
<text x="258" y="987.2" font-size="56.8" text-anchor="end">-10</text>
<text x="258" y="866.6" font-size="56.8" text-anchor="end">-5</text>
<text x="258" y="746" font-size="56.8" text-anchor="end">0</text>
<text x="258" y="625.4" font-size="56.8" text-anchor="end">5</text>
<text x="258" y="504.8" font-size="56.8" text-anchor="end">10</text>
<text x="258" y="384.2" font-size="56.8" text-anchor="end">15</text>
<text x="258" y="263.7" font-size="56.8" text-anchor="end">20</text>
<text x="258" y="143.1" font-size="56.8" text-anchor="end">25</text>
<text x="318" y="1477.3" font-size="56.8" text-anchor="middle">-5000</text>
<text x="478.6" y="1477.3" font-size="56.8" text-anchor="middle">-4000</text>
<text x="639.2" y="1477.3" font-size="56.8" text-anchor="middle">-3000</text>
<text x="799.7" y="1477.3" font-size="56.8" text-anchor="middle">-2000</text>
<text x="960.3" y="1477.3" font-size="56.8" text-anchor="middle">-1000</text>
<text x="1120.9" y="1477.3" font-size="56.8" text-anchor="middle">0</text>
<text x="1281.5" y="1477.3" font-size="56.8" text-anchor="middle">1000</text>
<text x="1442.1" y="1477.3" font-size="56.8" text-anchor="middle">2000</text>
<text x="1602.6" y="1477.3" font-size="56.8" text-anchor="middle">3000</text>
<text x="1763.2" y="1477.3" font-size="56.8" text-anchor="middle">4000</text>
<text x="1923.8" y="1477.3" font-size="56.8" text-anchor="middle">5000</text>
<text x="1122" y="1584" font-size="57.6" font-weight="bold" text-anchor="middle">Magnetic field (Oe)</text>
<text transform="translate(117.3 609.8) rotate(-90)" font-size="57.6" font-weight="bold" text-anchor="middle">Magnetization(emu/g)</text>
<rect x="400.5" y="162" width="630" height="401.5" fill="#fff" stroke="#000" stroke-width="3"/>
<path d="M409 210.5H566.5" stroke="#4d4d4d" stroke-width="17" stroke-linecap="round"/>
<path d="M479.2 202.3h16.3v16.3h-16.3Z" fill="#fff" stroke="#f02828" stroke-width="1.8"/>
<text x="585" y="235.7" font-size="71">Fe<tspan font-size="45.5" dy="16">30</tspan><tspan dy="-16">Co</tspan><tspan font-size="45.5" dy="16">70</tspan><tspan dy="-16">-ZnO</tspan></text>
<path d="M409 311.9H566.5" stroke="#ee3d3d" stroke-width="17" stroke-linecap="round"/>
<path d="M478.4 311.9a9 9 0 1 0 18 0a9 9 0 1 0 -18 0Z" fill="#fff" stroke="#a777e6" stroke-width="1.8"/>
<text x="585" y="337.1" font-size="71">Fe<tspan font-size="45.5" dy="16">50</tspan><tspan dy="-16">Co</tspan><tspan font-size="45.5" dy="16">50</tspan><tspan dy="-16">-ZnO</tspan></text>
<path d="M409 413.2H566.5" stroke="#1b6ddf" stroke-width="17" stroke-linecap="round"/>
<path d="M487.4 403.5L497.4 420.3L477.4 420.3Z" fill="#fff" stroke="#7a4640" stroke-width="1.8"/>
<text x="585" y="438.4" font-size="71">Fe<tspan font-size="45.5" dy="16">70</tspan><tspan dy="-16">Co</tspan><tspan font-size="45.5" dy="16">30</tspan><tspan dy="-16">-ZnO</tspan></text>
<path d="M409 514.6H566.5" stroke="#37ab69" stroke-width="17" stroke-linecap="round"/>
<path d="M487.4 523L496.2 508.1L478.5 508.1Z" fill="#fff" stroke="#6799d0" stroke-width="1.8"/>
<text x="584" y="539.6" font-size="71">ZnO</text>
<defs><clipPath id="ci"><rect x="1302.2" y="780" width="540" height="443.5"/></clipPath>
<clipPath id="cb"><rect x="287" y="1937" width="1673.3" height="1353"/></clipPath></defs>
<rect x="1302.2" y="780" width="540" height="443.5" fill="#fff" stroke="#000" stroke-width="2.8"/>
<path d="M1336 1223.5V1219M1369.7 1223.5V1215M1403.5 1223.5V1219M1437.2 1223.5V1215M1471 1223.5V1219M1504.7 1223.5V1215M1538.5 1223.5V1219M1572.2 1223.5V1215M1606 1223.5V1219M1639.7 1223.5V1215M1673.5 1223.5V1219M1707.2 1223.5V1215M1741 1223.5V1219M1774.7 1223.5V1215M1808.5 1223.5V1219M1302.2 1186.8H1311.2M1302.2 1140.6H1307.2M1302.2 1094.5H1311.2M1302.2 1048.3H1307.2M1302.2 1002.1H1311.2M1302.2 955.9H1307.2M1302.2 909.8H1311.2M1302.2 863.6H1307.2M1302.2 817.4H1311.2" stroke="#000" stroke-width="2.6" fill="none"/>
<g clip-path="url(#ci)">
<path d="M1572.2 780V1223.5 M1302.2 1002.1H1842.2" stroke="#000" stroke-width="2.2" fill="none"/>
<path d="M2044.7 803.3 L2036.8 805.1 L2028.8 806.9 L2020.9 808.7 L2012.9 810.6 L2005 812.4 L1997.1 814.3 L1989.1 816.2 L1981.2 818 L1973.2 819.9 L1965.3 821.8 L1957.3 823.8 L1949.4 825.7 L1941.5 827.7 L1933.5 829.6 L1925.6 831.6 L1917.6 833.6 L1909.7 835.6 L1901.8 837.7 L1893.8 839.7 L1885.9 841.8 L1877.9 843.9 L1870 846 L1862.1 848.1 L1854.1 850.2 L1846.2 852.4 L1838.2 854.6 L1830.3 856.8 L1822.3 859 L1814.4 861.3 L1806.5 863.5 L1798.5 865.8 L1790.6 868.2 L1782.6 870.5 L1774.7 872.9 L1766.8 875.3 L1758.8 877.7 L1750.9 880.2 L1742.9 882.6 L1735 885.1 L1727.1 887.7 L1719.1 890.3 L1711.2 892.9 L1703.2 895.5 L1695.3 898.1 L1687.3 900.8 L1679.4 903.6 L1671.5 906.3 L1663.5 909.1 L1655.6 911.9 L1647.6 914.8 L1639.7 917.7 L1631.8 920.6 L1623.8 923.6 L1615.9 926.6 L1607.9 929.6 L1600 932.7 L1592.1 935.8 L1584.1 939 L1576.2 942.2 L1568.2 945.5 L1560.3 948.8 L1552.3 952.1 L1544.4 955.5 L1536.5 959 L1528.5 962.4 L1520.6 965.9 L1512.6 969.4 L1504.7 973 L1496.8 976.6 L1488.8 980.2 L1480.9 983.8 L1472.9 987.5 L1465 991.1 L1457.1 994.8 L1449.1 998.5 L1441.2 1002.2 L1433.2 1005.9 L1425.3 1009.7 L1417.3 1013.4 L1409.4 1017.1 L1401.5 1020.9 L1393.5 1024.6 L1385.6 1028.3 L1377.6 1032 L1369.7 1035.8 L1361.8 1039.5 L1353.8 1043.2 L1345.9 1046.8 L1337.9 1050.5 L1330 1054.1 L1322.1 1057.8 L1314.1 1061.4 L1306.2 1065 L1298.2 1068.5 L1290.3 1072 L1282.3 1075.5 L1274.4 1079 L1266.5 1082.5 L1258.5 1085.9 L1250.6 1089.3 L1242.6 1092.7 L1234.7 1096 L1226.8 1099.3 L1218.8 1102.5 L1210.9 1105.8 L1202.9 1109 L1195 1112.2 L1187.1 1115.3 L1179.1 1118.4 L1171.2 1121.5 L1163.2 1124.5 L1155.3 1127.5 L1147.3 1130.5 L1139.4 1133.5 L1131.5 1136.4 L1123.5 1139.3 L1115.6 1142.1 L1107.6 1145 L1099.7 1147.8 L1099.7 1200.9 L1107.6 1199.1 L1115.6 1197.3 L1123.5 1195.5 L1131.5 1193.6 L1139.4 1191.8 L1147.3 1189.9 L1155.3 1188 L1163.2 1186.2 L1171.2 1184.3 L1179.1 1182.4 L1187.1 1180.4 L1195 1178.5 L1202.9 1176.5 L1210.9 1174.6 L1218.8 1172.6 L1226.8 1170.6 L1234.7 1168.6 L1242.6 1166.5 L1250.6 1164.5 L1258.5 1162.4 L1266.5 1160.3 L1274.4 1158.2 L1282.3 1156.1 L1290.3 1154 L1298.2 1151.8 L1306.2 1149.6 L1314.1 1147.4 L1322.1 1145.2 L1330 1142.9 L1337.9 1140.7 L1345.9 1138.4 L1353.8 1136 L1361.8 1133.7 L1369.7 1131.3 L1377.6 1128.9 L1385.6 1126.5 L1393.5 1124 L1401.5 1121.6 L1409.4 1119.1 L1417.3 1116.5 L1425.3 1113.9 L1433.2 1111.3 L1441.2 1108.7 L1449.1 1106.1 L1457.1 1103.4 L1465 1100.6 L1472.9 1097.9 L1480.9 1095.1 L1488.8 1092.3 L1496.8 1089.4 L1504.7 1086.5 L1512.6 1083.6 L1520.6 1080.6 L1528.5 1077.6 L1536.5 1074.6 L1544.4 1071.5 L1552.3 1068.4 L1560.3 1065.2 L1568.2 1062 L1576.2 1058.7 L1584.1 1055.4 L1592.1 1052.1 L1600 1048.7 L1607.9 1045.2 L1615.9 1041.8 L1623.8 1038.3 L1631.8 1034.8 L1639.7 1031.2 L1647.6 1027.6 L1655.6 1024 L1663.5 1020.4 L1671.5 1016.7 L1679.4 1013.1 L1687.3 1009.4 L1695.3 1005.7 L1703.2 1002 L1711.2 998.3 L1719.1 994.5 L1727.1 990.8 L1735 987.1 L1742.9 983.3 L1750.9 979.6 L1758.8 975.9 L1766.8 972.2 L1774.7 968.4 L1782.6 964.7 L1790.6 961 L1798.5 957.4 L1806.5 953.7 L1814.4 950.1 L1822.3 946.4 L1830.3 942.8 L1838.2 939.2 L1846.2 935.7 L1854.1 932.2 L1862.1 928.7 L1870 925.2 L1877.9 921.7 L1885.9 918.3 L1893.8 914.9 L1901.8 911.5 L1909.7 908.2 L1917.6 904.9 L1925.6 901.7 L1933.5 898.4 L1941.5 895.2 L1949.4 892 L1957.3 888.9 L1965.3 885.8 L1973.2 882.7 L1981.2 879.7 L1989.1 876.7 L1997.1 873.7 L2005 870.7 L2012.9 867.8 L2020.9 864.9 L2028.8 862.1 L2036.8 859.2 L2044.7 856.4" stroke="#4d4d4d" stroke-width="12" fill="none" stroke-linejoin="round"/>
<path d="M1790.6 864.3h6v6h-6ZM1679.9 899.4h6v6h-6ZM1569.2 940.8h6v6h-6ZM1458.5 989.7h6v6h-6ZM1347.8 1041.6h6v6h-6ZM1347.8 1133.9h6v6h-6ZM1458.5 1098.8h6v6h-6ZM1569.2 1057.4h6v6h-6ZM1679.9 1008.5h6v6h-6ZM1790.6 956.6h6v6h-6Z" fill="#fff" stroke="#f02828" stroke-width="1.6"/>
<path d="M2044.7 799.4 L2036.8 801.4 L2028.8 803.4 L2020.9 805.4 L2012.9 807.4 L2005 809.4 L1997.1 811.4 L1989.1 813.5 L1981.2 815.5 L1973.2 817.6 L1965.3 819.7 L1957.3 821.8 L1949.4 823.9 L1941.5 826.1 L1933.5 828.2 L1925.6 830.4 L1917.6 832.6 L1909.7 834.8 L1901.8 837 L1893.8 839.3 L1885.9 841.5 L1877.9 843.8 L1870 846.1 L1862.1 848.5 L1854.1 850.8 L1846.2 853.2 L1838.2 855.6 L1830.3 858 L1822.3 860.4 L1814.4 862.9 L1806.5 865.4 L1798.5 867.9 L1790.6 870.5 L1782.6 873 L1774.7 875.6 L1766.8 878.3 L1758.8 880.9 L1750.9 883.6 L1742.9 886.3 L1735 889.1 L1727.1 891.9 L1719.1 894.7 L1711.2 897.5 L1703.2 900.4 L1695.3 903.3 L1687.3 906.2 L1679.4 909.2 L1671.5 912.2 L1663.5 915.2 L1655.6 918.3 L1647.6 921.4 L1639.7 924.6 L1631.8 927.7 L1623.8 931 L1615.9 934.2 L1607.9 937.5 L1600 940.8 L1592.1 944.2 L1584.1 947.5 L1576.2 951 L1568.2 954.5 L1560.3 958 L1552.3 961.5 L1544.4 965.1 L1536.5 968.7 L1528.5 972.4 L1520.6 976.1 L1512.6 979.8 L1504.7 983.5 L1496.8 987.2 L1488.8 991 L1480.9 994.8 L1472.9 998.6 L1465 1002.4 L1457.1 1006.2 L1449.1 1010 L1441.2 1013.8 L1433.2 1017.6 L1425.3 1021.5 L1417.3 1025.3 L1409.4 1029.1 L1401.5 1032.9 L1393.5 1036.7 L1385.6 1040.5 L1377.6 1044.3 L1369.7 1048 L1361.8 1051.8 L1353.8 1055.5 L1345.9 1059.2 L1337.9 1062.9 L1330 1066.6 L1322.1 1070.2 L1314.1 1073.8 L1306.2 1077.4 L1298.2 1081 L1290.3 1084.5 L1282.3 1088 L1274.4 1091.5 L1266.5 1094.9 L1258.5 1098.4 L1250.6 1101.8 L1242.6 1105.1 L1234.7 1108.4 L1226.8 1111.7 L1218.8 1115 L1210.9 1118.2 L1202.9 1121.4 L1195 1124.6 L1187.1 1127.7 L1179.1 1130.8 L1171.2 1133.9 L1163.2 1136.9 L1155.3 1139.9 L1147.3 1142.9 L1139.4 1145.8 L1131.5 1148.7 L1123.5 1151.6 L1115.6 1154.5 L1107.6 1157.3 L1099.7 1160.1 L1099.7 1204.8 L1107.6 1202.8 L1115.6 1200.8 L1123.5 1198.8 L1131.5 1196.8 L1139.4 1194.8 L1147.3 1192.8 L1155.3 1190.7 L1163.2 1188.7 L1171.2 1186.6 L1179.1 1184.5 L1187.1 1182.4 L1195 1180.3 L1202.9 1178.1 L1210.9 1176 L1218.8 1173.8 L1226.8 1171.6 L1234.7 1169.4 L1242.6 1167.2 L1250.6 1164.9 L1258.5 1162.7 L1266.5 1160.4 L1274.4 1158.1 L1282.3 1155.7 L1290.3 1153.4 L1298.2 1151 L1306.2 1148.6 L1314.1 1146.2 L1322.1 1143.8 L1330 1141.3 L1337.9 1138.8 L1345.9 1136.3 L1353.8 1133.7 L1361.8 1131.2 L1369.7 1128.6 L1377.6 1125.9 L1385.6 1123.3 L1393.5 1120.6 L1401.5 1117.9 L1409.4 1115.1 L1417.3 1112.3 L1425.3 1109.5 L1433.2 1106.7 L1441.2 1103.8 L1449.1 1100.9 L1457.1 1098 L1465 1095 L1472.9 1092 L1480.9 1089 L1488.8 1085.9 L1496.8 1082.8 L1504.7 1079.6 L1512.6 1076.5 L1520.6 1073.2 L1528.5 1070 L1536.5 1066.7 L1544.4 1063.4 L1552.3 1060 L1560.3 1056.7 L1568.2 1053.2 L1576.2 1049.7 L1584.1 1046.2 L1592.1 1042.7 L1600 1039.1 L1607.9 1035.5 L1615.9 1031.8 L1623.8 1028.1 L1631.8 1024.4 L1639.7 1020.7 L1647.6 1017 L1655.6 1013.2 L1663.5 1009.4 L1671.5 1005.6 L1679.4 1001.8 L1687.3 998 L1695.3 994.2 L1703.2 990.4 L1711.2 986.6 L1719.1 982.7 L1727.1 978.9 L1735 975.1 L1742.9 971.3 L1750.9 967.5 L1758.8 963.7 L1766.8 959.9 L1774.7 956.2 L1782.6 952.4 L1790.6 948.7 L1798.5 945 L1806.5 941.3 L1814.4 937.6 L1822.3 934 L1830.3 930.4 L1838.2 926.8 L1846.2 923.2 L1854.1 919.7 L1862.1 916.2 L1870 912.7 L1877.9 909.3 L1885.9 905.8 L1893.8 902.4 L1901.8 899.1 L1909.7 895.8 L1917.6 892.5 L1925.6 889.2 L1933.5 886 L1941.5 882.8 L1949.4 879.6 L1957.3 876.5 L1965.3 873.4 L1973.2 870.3 L1981.2 867.3 L1989.1 864.3 L1997.1 861.3 L2005 858.4 L2012.9 855.5 L2020.9 852.6 L2028.8 849.7 L2036.8 846.9 L2044.7 844.1" stroke="#ee3d3d" stroke-width="12" fill="none" stroke-linejoin="round"/>
<path d="M1776.5 874a3.3 3.3 0 1 0 6.6 0a3.3 3.3 0 1 0 -6.6 0ZM1672.7 910.5a3.3 3.3 0 1 0 6.6 0a3.3 3.3 0 1 0 -6.6 0ZM1568.9 952.7a3.3 3.3 0 1 0 6.6 0a3.3 3.3 0 1 0 -6.6 0ZM1465.1 1000.7a3.3 3.3 0 1 0 6.6 0a3.3 3.3 0 1 0 -6.6 0ZM1361.3 1050.4a3.3 3.3 0 1 0 6.6 0a3.3 3.3 0 1 0 -6.6 0ZM1361.3 1130.2a3.3 3.3 0 1 0 6.6 0a3.3 3.3 0 1 0 -6.6 0ZM1465.1 1093.7a3.3 3.3 0 1 0 6.6 0a3.3 3.3 0 1 0 -6.6 0ZM1568.9 1051.5a3.3 3.3 0 1 0 6.6 0a3.3 3.3 0 1 0 -6.6 0ZM1672.7 1003.5a3.3 3.3 0 1 0 6.6 0a3.3 3.3 0 1 0 -6.6 0ZM1776.5 953.8a3.3 3.3 0 1 0 6.6 0a3.3 3.3 0 1 0 -6.6 0Z" fill="#fff" stroke="#a777e6" stroke-width="1.6"/>
<path d="M2044.7 672.4 L2036.8 675.8 L2028.8 679.3 L2020.9 682.8 L2012.9 686.3 L2005 689.8 L1997.1 693.3 L1989.1 696.8 L1981.2 700.4 L1973.2 703.9 L1965.3 707.5 L1957.3 711.1 L1949.4 714.7 L1941.5 718.3 L1933.5 722 L1925.6 725.6 L1917.6 729.3 L1909.7 733 L1901.8 736.7 L1893.8 740.5 L1885.9 744.2 L1877.9 748 L1870 751.8 L1862.1 755.6 L1854.1 759.5 L1846.2 763.3 L1838.2 767.2 L1830.3 771.1 L1822.3 775.1 L1814.4 779 L1806.5 783 L1798.5 787 L1790.6 791.1 L1782.6 795.1 L1774.7 799.2 L1766.8 803.4 L1758.8 807.5 L1750.9 811.7 L1742.9 815.9 L1735 820.2 L1727.1 824.4 L1719.1 828.8 L1711.2 833.1 L1703.2 837.5 L1695.3 841.9 L1687.3 846.4 L1679.4 850.9 L1671.5 855.4 L1663.5 859.9 L1655.6 864.6 L1647.6 869.2 L1639.7 873.9 L1631.8 878.6 L1623.8 883.4 L1615.9 888.3 L1607.9 893.2 L1600 898.1 L1592.1 903.1 L1584.1 908.2 L1576.2 913.3 L1568.2 918.7 L1560.3 924.1 L1552.3 929.7 L1544.4 935.4 L1536.5 941.1 L1528.5 946.8 L1520.6 952.6 L1512.6 958.5 L1504.7 964.4 L1496.8 970.3 L1488.8 976.2 L1480.9 982.2 L1472.9 988.2 L1465 994.3 L1457.1 1000.3 L1449.1 1006.4 L1441.2 1012.4 L1433.2 1018.5 L1425.3 1024.6 L1417.3 1030.7 L1409.4 1036.8 L1401.5 1043 L1393.5 1049.1 L1385.6 1055.2 L1377.6 1061.2 L1369.7 1067.3 L1361.8 1073.4 L1353.8 1079.5 L1345.9 1085.5 L1337.9 1091.5 L1330 1097.5 L1322.1 1103.5 L1314.1 1109.4 L1306.2 1115.3 L1298.2 1121.2 L1290.3 1127.1 L1282.3 1132.9 L1274.4 1138.7 L1266.5 1144.5 L1258.5 1150.2 L1250.6 1155.9 L1242.6 1161.6 L1234.7 1167.2 L1226.8 1172.8 L1218.8 1178.4 L1210.9 1183.9 L1202.9 1189.4 L1195 1194.8 L1187.1 1200.2 L1179.1 1205.6 L1171.2 1210.9 L1163.2 1216.2 L1155.3 1221.4 L1147.3 1226.6 L1139.4 1231.8 L1131.5 1236.9 L1123.5 1242 L1115.6 1247 L1107.6 1252 L1099.7 1257 L1099.7 1331.8 L1107.6 1328.4 L1115.6 1324.9 L1123.5 1321.4 L1131.5 1317.9 L1139.4 1314.4 L1147.3 1310.9 L1155.3 1307.4 L1163.2 1303.8 L1171.2 1300.3 L1179.1 1296.7 L1187.1 1293.1 L1195 1289.5 L1202.9 1285.9 L1210.9 1282.2 L1218.8 1278.6 L1226.8 1274.9 L1234.7 1271.2 L1242.6 1267.5 L1250.6 1263.7 L1258.5 1260 L1266.5 1256.2 L1274.4 1252.4 L1282.3 1248.6 L1290.3 1244.7 L1298.2 1240.9 L1306.2 1237 L1314.1 1233.1 L1322.1 1229.1 L1330 1225.2 L1337.9 1221.2 L1345.9 1217.2 L1353.8 1213.1 L1361.8 1209.1 L1369.7 1205 L1377.6 1200.8 L1385.6 1196.7 L1393.5 1192.5 L1401.5 1188.3 L1409.4 1184 L1417.3 1179.8 L1425.3 1175.4 L1433.2 1171.1 L1441.2 1166.7 L1449.1 1162.3 L1457.1 1157.8 L1465 1153.3 L1472.9 1148.8 L1480.9 1144.3 L1488.8 1139.6 L1496.8 1135 L1504.7 1130.3 L1512.6 1125.6 L1520.6 1120.8 L1528.5 1115.9 L1536.5 1111 L1544.4 1106.1 L1552.3 1101.1 L1560.3 1096 L1568.2 1090.9 L1576.2 1085.5 L1584.1 1080.1 L1592.1 1074.5 L1600 1068.8 L1607.9 1063.1 L1615.9 1057.4 L1623.8 1051.6 L1631.8 1045.7 L1639.7 1039.8 L1647.6 1033.9 L1655.6 1028 L1663.5 1022 L1671.5 1016 L1679.4 1009.9 L1687.3 1003.9 L1695.3 997.8 L1703.2 991.8 L1711.2 985.7 L1719.1 979.6 L1727.1 973.5 L1735 967.4 L1742.9 961.2 L1750.9 955.1 L1758.8 949 L1766.8 943 L1774.7 936.9 L1782.6 930.8 L1790.6 924.7 L1798.5 918.7 L1806.5 912.7 L1814.4 906.7 L1822.3 900.7 L1830.3 894.8 L1838.2 888.9 L1846.2 883 L1854.1 877.1 L1862.1 871.3 L1870 865.5 L1877.9 859.7 L1885.9 854 L1893.8 848.3 L1901.8 842.6 L1909.7 837 L1917.6 831.4 L1925.6 825.8 L1933.5 820.3 L1941.5 814.8 L1949.4 809.4 L1957.3 804 L1965.3 798.6 L1973.2 793.3 L1981.2 788 L1989.1 782.8 L1997.1 777.6 L2005 772.4 L2012.9 767.3 L2020.9 762.2 L2028.8 757.2 L2036.8 752.2 L2044.7 747.2" stroke="#1b6ddf" stroke-width="12" fill="none" stroke-linejoin="round"/>
<path d="M1795.6 784L1799.6 790.7L1791.6 790.7ZM1684.9 843.2L1688.9 850L1680.9 850ZM1574.2 910.1L1578.2 916.9L1570.2 916.9ZM1463.5 990.9L1467.5 997.6L1459.5 997.6ZM1352.8 1075.7L1356.8 1082.4L1348.8 1082.4ZM1343.2 1214.1L1347.2 1220.8L1339.2 1220.8ZM1457.7 1153L1461.7 1159.7L1453.7 1159.7ZM1572.2 1083.8L1576.2 1090.5L1568.2 1090.5ZM1686.7 999.9L1690.7 1006.6L1682.7 1006.6ZM1801.2 912.2L1805.2 918.9L1797.2 918.9Z" fill="#fff" stroke="#7a4640" stroke-width="1.6"/>
<path d="M1302.2 1002.1H1842.2" stroke="#37ab69" stroke-width="11.5" fill="none"/>
<path d="M1309 1006.6L1313 999.9L1305 999.9ZM1426.4 1006.6L1430.4 999.9L1422.4 999.9ZM1441.2 1006.6L1445.2 999.9L1437.2 999.9ZM1563.4 1006.6L1567.4 999.9L1559.4 999.9ZM1572.2 1006.6L1576.2 999.9L1568.2 999.9ZM1701.8 1006.6L1705.8 999.9L1697.8 999.9ZM1707.2 1006.6L1711.2 999.9L1703.2 999.9ZM1840.2 1006.6L1844.2 999.9L1836.2 999.9Z" fill="#fff" stroke="#6799d0" stroke-width="1.6"/>
</g>
<text transform="translate(1292.5 823.1) scale(0.915 1)" font-size="19.3" font-weight="bold" text-anchor="end">0.10</text>
<text transform="translate(1292.5 869.3) scale(0.915 1)" font-size="19.3" font-weight="bold" text-anchor="end">0.08</text>
<text transform="translate(1292.5 915.5) scale(0.915 1)" font-size="19.3" font-weight="bold" text-anchor="end">0.05</text>
<text transform="translate(1292.5 961.6) scale(0.915 1)" font-size="19.3" font-weight="bold" text-anchor="end">0.03</text>
<text transform="translate(1292.5 1007.8) scale(0.915 1)" font-size="19.3" font-weight="bold" text-anchor="end">0.00</text>
<text transform="translate(1292.5 1054) scale(0.915 1)" font-size="19.3" font-weight="bold" text-anchor="end">-0.03</text>
<text transform="translate(1292.5 1100.2) scale(0.915 1)" font-size="19.3" font-weight="bold" text-anchor="end">-0.05</text>
<text transform="translate(1292.5 1146.3) scale(0.915 1)" font-size="19.3" font-weight="bold" text-anchor="end">-0.08</text>
<text transform="translate(1292.5 1192.5) scale(0.915 1)" font-size="19.3" font-weight="bold" text-anchor="end">-0.10</text>
<text transform="translate(1302.2 1248.6) scale(0.94 1)" font-size="19.3" font-weight="bold" text-anchor="middle">-400</text>
<text transform="translate(1369.7 1248.6) scale(0.94 1)" font-size="19.3" font-weight="bold" text-anchor="middle">-300</text>
<text transform="translate(1437.2 1248.6) scale(0.94 1)" font-size="19.3" font-weight="bold" text-anchor="middle">-200</text>
<text transform="translate(1504.7 1248.6) scale(0.94 1)" font-size="19.3" font-weight="bold" text-anchor="middle">-100</text>
<text transform="translate(1572.2 1248.6) scale(0.94 1)" font-size="19.3" font-weight="bold" text-anchor="middle">0</text>
<text transform="translate(1639.7 1248.6) scale(0.94 1)" font-size="19.3" font-weight="bold" text-anchor="middle">100</text>
<text transform="translate(1707.2 1248.6) scale(0.94 1)" font-size="19.3" font-weight="bold" text-anchor="middle">200</text>
<text transform="translate(1774.7 1248.6) scale(0.94 1)" font-size="19.3" font-weight="bold" text-anchor="middle">300</text>
<text transform="translate(1842.2 1248.6) scale(0.94 1)" font-size="19.3" font-weight="bold" text-anchor="middle">400</text>
<path d="M1123.3 1937V3290 M287 2613.5H1960.3" stroke="#000" stroke-width="5.5" fill="none"/>
<rect x="287" y="1937" width="1673.3" height="1353" fill="none" stroke="#000" stroke-width="5.7"/>
<path d="M379.7 3290V3264M565.6 3290V3277M751.5 3290V3264M937.4 3290V3277M1123.3 3290V3264M1309.2 3290V3277M1495.1 3290V3264M1681 3290V3277M1866.9 3290V3264M287 3205.2H301M287 3120.7H314M287 3036.2H301M287 2951.6H314M287 2867.1H301M287 2782.6H314M287 2698H301M287 2613.5H314M287 2529H301M287 2444.4H314M287 2359.9H301M287 2275.4H314M287 2190.8H301M287 2106.3H314M287 2021.8H301" stroke="#000" stroke-width="5.5" fill="none"/>
<g clip-path="url(#cb)">
<path d="M280 2043 L287.6 2050 L325.4 2073.3 L362.9 2093.5 L400.4 2115.1 L437.9 2136.7 L475.4 2156.9 L514.3 2181.4 L551.8 2206 L590.8 2229 L628.3 2252.1 L665.8 2275.2 L701.8 2295.4 L741.4 2318.9 L780.7 2340.1 L818.4 2362.7 L856.2 2388.4 L894 2415.6 L931.8 2436.8 L969.5 2459.5 L1007.3 2498.7 L1045.1 2530.5 L1082.9 2562.2 L1119.1 2604.5 L1160.2 2640.2 L1198.6 2653.8 L1237 2675.6 L1272.4 2734.7 L1310.8 2773.1 L1349.2 2796.7 L1387.6 2823.3 L1426 2838.1 L1464.4 2855.8 L1499.8 2884.2 L1538.2 2900.1 L1576.6 2927.9 L1615 2947.4 L1653.4 2971 L1691.8 2991.7 L1727.3 3014.1 L1765.6 3037.1 L1804 3059.6 L1842.4 3080.3 L1880.8 3103.9 L1919.2 3126.3 L1954.7 3148.2 L1993 3170" stroke="#37ab69" stroke-width="19" fill="none" stroke-linejoin="round"/>
<path d="M280 2046 L284.7 2052 L321.1 2073.3 L358.6 2094.9 L396.1 2118 L430.7 2138.2 L468.2 2158.4 L504.2 2178.6 L540.3 2195.9 L577.8 2206 L613.8 2226.2 L649.9 2252.1 L687.4 2282.4 L723.2 2305.3 L759.5 2338.6 L795.8 2362.7 L832 2385.4 L869.8 2396 L906.1 2414.1 L943.8 2442.8 L978.6 2476.1 L1014.9 2509.3 L1051.1 2541 L1087.4 2577.3 L1123.4 2613 L1160.2 2646.1 L1195.6 2693.4 L1234 2724.7 L1269.5 2758.3 L1304.9 2784.9 L1343.3 2813.3 L1378.8 2832.2 L1414.2 2848.7 L1452.6 2874.7 L1488 2885.3 L1523.5 2901.9 L1561.9 2926.7 L1597.3 2944.4 L1632.7 2968 L1671.1 2986.9 L1706.6 3027.1 L1742 3047.8 L1780.4 3075.5 L1815.8 3100.9 L1854.2 3124.6 L1889.6 3146.4 L1925.1 3163 L1957.6 3177.7 L1995 3195" stroke="#37ab69" stroke-width="19" fill="none" stroke-linejoin="round"/>
<g fill="#fff" stroke="#6799d0" stroke-width="1.5"><path d="M284.7 2063.6L295.1 2046.2L274.3 2046.2Z"/><path d="M321.1 2084.9L331.5 2067.5L310.8 2067.5Z"/><path d="M358.6 2106.5L369 2089.1L348.2 2089.1Z"/><path d="M396.1 2129.6L406.5 2112.2L385.8 2112.2Z"/><path d="M430.7 2149.8L441.1 2132.4L420.3 2132.4Z"/><path d="M468.2 2170L478.6 2152.6L457.8 2152.6Z"/><path d="M504.2 2190.2L514.5 2172.8L493.8 2172.8Z"/><path d="M540.3 2207.5L550.6 2190.1L529.9 2190.1Z"/><path d="M577.8 2217.6L588.1 2200.2L567.4 2200.2Z"/><path d="M613.8 2237.8L624.1 2220.4L603.4 2220.4Z"/><path d="M649.9 2263.7L660.2 2246.3L639.5 2246.3Z"/><path d="M687.4 2294L697.8 2276.6L677 2276.6Z"/><path d="M723.2 2316.9L733.6 2299.5L712.9 2299.5Z"/><path d="M759.5 2350.2L769.9 2332.8L749.1 2332.8Z"/><path d="M795.8 2374.3L806.1 2356.9L785.4 2356.9Z"/><path d="M832 2397L842.4 2379.6L821.6 2379.6Z"/><path d="M869.8 2407.6L880.1 2390.2L859.4 2390.2Z"/><path d="M906.1 2425.7L916.5 2408.3L895.8 2408.3Z"/><path d="M943.8 2454.4L954.1 2437L933.4 2437Z"/><path d="M978.6 2487.7L989 2470.3L968.2 2470.3Z"/><path d="M1014.9 2520.9L1025.2 2503.5L1004.5 2503.5Z"/><path d="M1051.1 2552.6L1061.4 2535.2L1040.8 2535.2Z"/><path d="M1087.4 2588.9L1097.8 2571.5L1077.1 2571.5Z"/><path d="M1123.4 2624.6L1133.8 2607.2L1113.1 2607.2Z"/><path d="M1160.2 2657.7L1170.5 2640.3L1149.9 2640.3Z"/><path d="M1195.6 2705L1205.9 2687.6L1185.2 2687.6Z"/><path d="M1234 2736.3L1244.3 2718.9L1223.7 2718.9Z"/><path d="M1269.5 2769.9L1279.8 2752.5L1259.2 2752.5Z"/><path d="M1304.9 2796.5L1315.2 2779.1L1294.6 2779.1Z"/><path d="M1343.3 2824.9L1353.6 2807.5L1333 2807.5Z"/><path d="M1378.8 2843.8L1389.1 2826.4L1368.5 2826.4Z"/><path d="M1414.2 2860.3L1424.5 2842.9L1403.9 2842.9Z"/><path d="M1452.6 2886.3L1462.9 2868.9L1442.2 2868.9Z"/><path d="M1488 2896.9L1498.3 2879.5L1477.7 2879.5Z"/><path d="M1523.5 2913.5L1533.8 2896.1L1513.2 2896.1Z"/><path d="M1561.9 2938.3L1572.2 2920.9L1551.6 2920.9Z"/><path d="M1597.3 2956L1607.6 2938.6L1587 2938.6Z"/><path d="M1632.7 2979.6L1643 2962.2L1622.4 2962.2Z"/><path d="M1671.1 2998.5L1681.4 2981.1L1660.8 2981.1Z"/><path d="M1706.6 3038.7L1716.9 3021.3L1696.2 3021.3Z"/><path d="M1742 3059.4L1752.3 3042L1731.7 3042Z"/><path d="M1780.4 3087.1L1790.8 3069.7L1770.1 3069.7Z"/><path d="M1815.8 3112.5L1826.1 3095.1L1805.5 3095.1Z"/><path d="M1854.2 3136.2L1864.5 3118.8L1843.9 3118.8Z"/><path d="M1889.6 3158L1899.9 3140.6L1879.2 3140.6Z"/><path d="M1925.1 3174.6L1935.4 3157.2L1914.8 3157.2Z"/><path d="M1957.6 3189.3L1967.9 3171.9L1947.2 3171.9Z"/><path d="M1995 3206.6L2005.3 3189.2L1984.7 3189.2Z"/><path d="M287.6 2061.6L298 2044.2L277.2 2044.2Z"/><path d="M325.4 2084.9L335.8 2067.5L315 2067.5Z"/><path d="M362.9 2105.1L373.2 2087.7L352.5 2087.7Z"/><path d="M400.4 2126.7L410.8 2109.3L390 2109.3Z"/><path d="M437.9 2148.3L448.2 2130.9L427.5 2130.9Z"/><path d="M475.4 2168.5L485.8 2151.1L465 2151.1Z"/><path d="M514.3 2193L524.6 2175.6L503.9 2175.6Z"/><path d="M551.8 2217.6L562.1 2200.2L541.4 2200.2Z"/><path d="M590.8 2240.6L601.1 2223.2L580.4 2223.2Z"/><path d="M628.3 2263.7L638.6 2246.3L617.9 2246.3Z"/><path d="M665.8 2286.8L676.1 2269.4L655.4 2269.4Z"/><path d="M701.8 2307L712.1 2289.6L691.4 2289.6Z"/><path d="M741.4 2330.5L751.8 2313.1L731 2313.1Z"/><path d="M780.7 2351.7L791.1 2334.3L770.4 2334.3Z"/><path d="M818.4 2374.3L828.8 2356.9L808 2356.9Z"/><path d="M856.2 2400L866.6 2382.6L845.9 2382.6Z"/><path d="M894 2427.2L904.4 2409.8L883.6 2409.8Z"/><path d="M931.8 2448.4L942.1 2431L921.4 2431Z"/><path d="M969.5 2471.1L979.9 2453.7L959.1 2453.7Z"/><path d="M1007.3 2510.3L1017.6 2492.9L996.9 2492.9Z"/><path d="M1045.1 2542.1L1055.4 2524.7L1034.8 2524.7Z"/><path d="M1082.9 2573.8L1093.2 2556.4L1072.6 2556.4Z"/><path d="M1119.1 2616.1L1129.4 2598.7L1108.8 2598.7Z"/><path d="M1160.2 2651.8L1170.5 2634.4L1149.9 2634.4Z"/><path d="M1198.6 2665.4L1208.9 2648L1188.2 2648Z"/><path d="M1237 2687.2L1247.3 2669.8L1226.7 2669.8Z"/><path d="M1272.4 2746.3L1282.8 2728.9L1262.1 2728.9Z"/><path d="M1310.8 2784.7L1321.1 2767.3L1300.5 2767.3Z"/><path d="M1349.2 2808.3L1359.5 2790.9L1338.9 2790.9Z"/><path d="M1387.6 2834.9L1397.9 2817.5L1377.2 2817.5Z"/><path d="M1426 2849.7L1436.3 2832.3L1415.7 2832.3Z"/><path d="M1464.4 2867.4L1474.8 2850L1454.1 2850Z"/><path d="M1499.8 2895.8L1510.1 2878.4L1489.5 2878.4Z"/><path d="M1538.2 2911.7L1548.5 2894.3L1527.9 2894.3Z"/><path d="M1576.6 2939.5L1586.9 2922.1L1566.2 2922.1Z"/><path d="M1615 2959L1625.3 2941.6L1604.7 2941.6Z"/><path d="M1653.4 2982.6L1663.8 2965.2L1643.1 2965.2Z"/><path d="M1691.8 3003.3L1702.1 2985.9L1681.5 2985.9Z"/><path d="M1727.3 3025.7L1737.6 3008.3L1717 3008.3Z"/><path d="M1765.6 3048.7L1775.9 3031.3L1755.2 3031.3Z"/><path d="M1804 3071.2L1814.3 3053.8L1793.7 3053.8Z"/><path d="M1842.4 3091.9L1852.8 3074.5L1832.1 3074.5Z"/><path d="M1880.8 3115.5L1891.1 3098.1L1870.5 3098.1Z"/><path d="M1919.2 3137.9L1929.5 3120.5L1908.9 3120.5Z"/><path d="M1954.7 3159.8L1965 3142.4L1944.4 3142.4Z"/><path d="M1993 3181.6L2003.3 3164.2L1982.7 3164.2Z"/></g>
</g>
<text x="258.5" y="1954.3" font-size="56.8" text-anchor="end">0.04</text>
<text x="258.5" y="2038.8" font-size="56.8" text-anchor="end">0.03</text>
<text x="258.5" y="2123.3" font-size="56.8" text-anchor="end">0.03</text>
<text x="258.5" y="2207.8" font-size="56.8" text-anchor="end">0.02</text>
<text x="258.5" y="2292.4" font-size="56.8" text-anchor="end">0.02</text>
<text x="258.5" y="2376.9" font-size="56.8" text-anchor="end">0.01</text>
<text x="258.5" y="2461.4" font-size="56.8" text-anchor="end">0.01</text>
<text x="258.5" y="2546" font-size="56.8" text-anchor="end">0.01</text>
<text x="258.5" y="2630.5" font-size="56.8" text-anchor="end">0.00</text>
<text x="258.5" y="2715" font-size="56.8" text-anchor="end">-0.01</text>
<text x="258.5" y="2799.6" font-size="56.8" text-anchor="end">-0.01</text>
<text x="258.5" y="2884.1" font-size="56.8" text-anchor="end">-0.01</text>
<text x="258.5" y="2968.6" font-size="56.8" text-anchor="end">-0.02</text>
<text x="258.5" y="3053.2" font-size="56.8" text-anchor="end">-0.02</text>
<text x="258.5" y="3137.7" font-size="56.8" text-anchor="end">-0.03</text>
<text x="258.5" y="3222.2" font-size="56.8" text-anchor="end">-0.03</text>
<text x="258.5" y="3306.7" font-size="56.8" text-anchor="end">-0.04</text>
<text x="379.7" y="3363.8" font-size="56.8" text-anchor="middle">-4000</text>
<text x="751.5" y="3363.8" font-size="56.8" text-anchor="middle">-2000</text>
<text x="1123.3" y="3363.8" font-size="56.8" text-anchor="middle">0</text>
<text x="1495.1" y="3363.8" font-size="56.8" text-anchor="middle">2000</text>
<text x="1866.9" y="3363.8" font-size="56.8" text-anchor="middle">4000</text>
<text x="1124.8" y="3470" font-size="57.6" font-weight="bold" text-anchor="middle">Magnetic field (Oe)</text>
<text transform="translate(70.8 2494.6) rotate(-90)" font-size="57.6" font-weight="bold" text-anchor="middle">Magnetization(emu/g)</text>
<rect x="1504.5" y="2177.5" width="330" height="97" fill="#fff" stroke="#000" stroke-width="2.6"/>
<path d="M1513.5 2226.2H1670.5" stroke="#37ab69" stroke-width="16.4" stroke-linecap="round"/>
<path d="M1591.7 2236.4L1600.5 2221.5L1582.9 2221.5Z" fill="#fff" stroke="#6799d0" stroke-width="1.6"/>
<text x="1689" y="2250.3" font-size="71">ZnO</text>
</svg></body></html>
